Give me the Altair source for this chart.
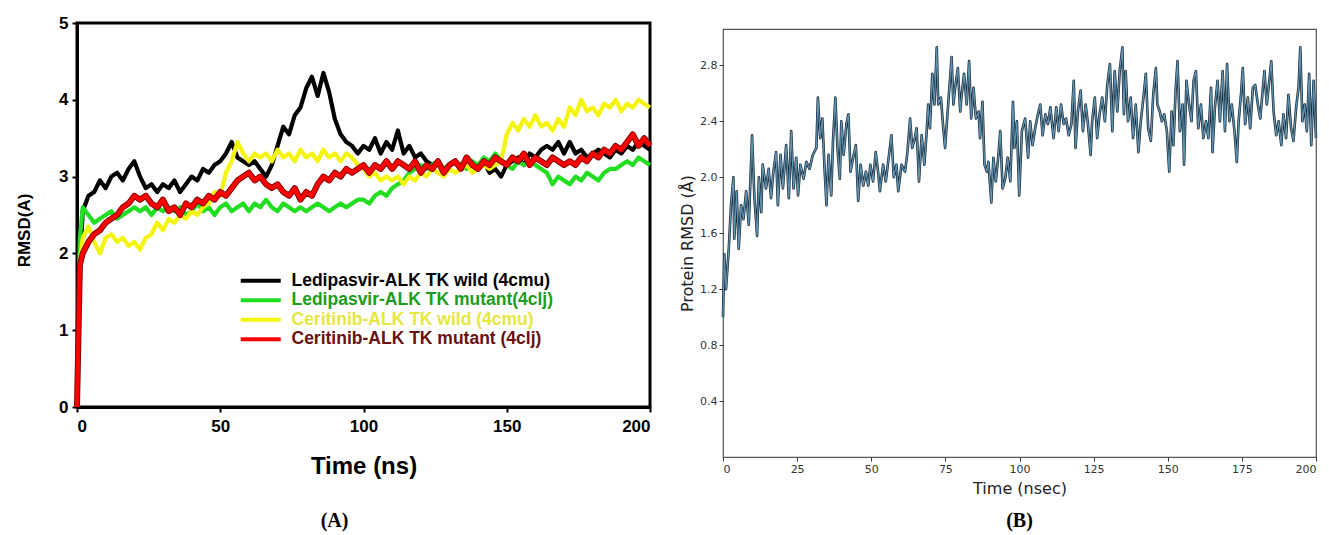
import altair as alt
import pandas as pd

# ---------------- Panel A data (RMSD, Å) ----------------
TIME_A = [0, 1] + list(range(2, 201, 2))

LEDI_WILD = [0, 1.85,
    2.55, 2.75, 2.8, 2.95, 2.85, 3.0, 3.05, 2.95, 3.1, 3.2,
    3.0, 2.85, 2.9, 2.8, 2.9, 2.85, 2.95, 2.8, 2.9, 3.0,
    2.95, 3.1, 3.05, 3.15, 3.2, 3.3, 3.45, 3.25, 3.2, 3.15,
    3.2, 3.1, 3.0, 3.15, 3.4, 3.65, 3.55, 3.8, 3.9, 4.15,
    4.3, 4.05, 4.35, 4.1, 3.75, 3.55, 3.45, 3.4, 3.3, 3.4,
    3.35, 3.5, 3.3, 3.45, 3.35, 3.6, 3.3, 3.4, 3.25, 3.3,
    3.2, 3.15, 3.2, 3.1, 3.15, 3.2, 3.1, 3.25, 3.15, 3.1,
    3.2, 3.05, 3.1, 3.0, 3.15, 3.2, 3.25, 3.15, 3.3, 3.25,
    3.35, 3.4, 3.35, 3.45, 3.3, 3.45, 3.3, 3.35, 3.25, 3.3,
    3.35, 3.3, 3.25, 3.35, 3.3, 3.4, 3.35, 3.45, 3.4, 3.35]

LEDI_MUT = [0, 2.2,
    2.6, 2.5, 2.4, 2.45, 2.5, 2.55, 2.45, 2.5, 2.55, 2.6,
    2.55, 2.6, 2.5, 2.6, 2.55, 2.6, 2.55, 2.6, 2.5, 2.55,
    2.65, 2.55, 2.6, 2.5, 2.6, 2.65, 2.55, 2.6, 2.65, 2.55,
    2.65, 2.6, 2.7, 2.6, 2.55, 2.65, 2.6, 2.55, 2.6, 2.55,
    2.6, 2.65, 2.6, 2.55, 2.6, 2.65, 2.6, 2.65, 2.7, 2.7,
    2.65, 2.75, 2.8, 2.75, 2.85, 2.9, 2.95, 3.05, 3.1, 3.15,
    3.1, 3.15, 3.2, 3.1, 3.15, 3.2, 3.15, 3.1, 3.2, 3.15,
    3.25, 3.2, 3.3, 3.2, 3.15, 3.1, 3.2, 3.15, 3.2, 3.15,
    3.1, 3.05, 2.9, 3.0, 2.95, 2.9, 3.0, 2.95, 3.05, 3.0,
    2.95, 3.05, 3.1, 3.1, 3.15, 3.2, 3.15, 3.25, 3.2, 3.15]

CERI_WILD = [0, 1.9,
    2.2, 2.35, 2.15, 2.0, 2.2, 2.25, 2.15, 2.2, 2.1, 2.15,
    2.05, 2.2, 2.25, 2.4, 2.3, 2.45, 2.4, 2.5, 2.45, 2.55,
    2.5, 2.6, 2.65, 2.8, 2.75, 3.05, 3.2, 3.45, 3.3, 3.2,
    3.3, 3.25, 3.3, 3.2, 3.35, 3.25, 3.3, 3.2, 3.35, 3.25,
    3.3, 3.2, 3.35, 3.25, 3.3, 3.2, 3.3, 3.25, 3.15, 3.1,
    3.0, 3.05, 2.95, 3.0, 2.95, 3.0, 2.9, 3.0, 2.95, 3.05,
    3.0, 3.1, 3.05, 3.0, 3.1, 3.05, 3.1, 3.15, 3.05, 3.1,
    3.15, 3.1, 3.15, 3.2, 3.55, 3.7, 3.6, 3.75, 3.65, 3.8,
    3.65, 3.7, 3.6, 3.75, 3.65, 3.9, 3.8, 4.0, 3.85, 3.9,
    3.8, 3.95, 3.9, 4.0, 3.85, 3.95, 3.9, 4.0, 3.95, 3.9]

CERI_MUT = [0, 1.85,
    2.0, 2.15, 2.25, 2.3, 2.4, 2.45, 2.5, 2.6, 2.65, 2.75,
    2.7, 2.75, 2.65, 2.6, 2.7, 2.55, 2.6, 2.5, 2.65, 2.6,
    2.7, 2.65, 2.75, 2.7, 2.8, 2.75, 2.85, 2.95, 3.0, 3.05,
    2.95, 3.0, 2.9, 2.85, 2.9, 2.8, 2.75, 2.85, 2.7, 2.8,
    2.75, 2.9, 3.0, 2.95, 3.05, 3.0, 3.1, 3.05, 3.1, 3.15,
    3.05, 3.15, 3.1, 3.2, 3.1, 3.2, 3.15, 3.1, 3.2, 3.05,
    3.15, 3.1, 3.2, 3.05, 3.15, 3.2, 3.1, 3.25, 3.15, 3.1,
    3.2, 3.15, 3.25, 3.2, 3.15, 3.25, 3.2, 3.3, 3.15, 3.25,
    3.2, 3.15, 3.25, 3.2, 3.15, 3.2, 3.15, 3.25, 3.2, 3.3,
    3.25, 3.35, 3.3, 3.4, 3.35, 3.45, 3.55, 3.4, 3.5, 3.4]

SERIES = ["Ledipasvir-ALK TK wild (4cmu)",
          "Ledipasvir-ALK TK mutant(4clj)",
          "Ceritinib-ALK TK  wild (4cmu)",
          "Ceritinib-ALK TK  mutant (4clj)"]
SERIES_VALUES = [LEDI_WILD, LEDI_MUT, CERI_WILD, CERI_MUT]
LINE_COLORS = ["#000000", "#22dd22", "#f4f40c", "#ff0000"]
LABEL_COLORS = ["#000000", "#1c9c1c", "#e6e640", "#6a1010"]

# ---------------- Panel B data (Protein RMSD, Å) ----------------
B_POINTS = [(0.0,1.0),(0.45,1.45),(1.0,1.2),(1.9,1.47),(2.7,1.8),(3.5,2.0),(3.8,1.56),(4.6,1.9),(5.3,1.49),(6.1,1.8),
    (6.9,1.7),(7.8,1.9),(8.7,1.66),(9.8,2.3),(10.6,1.85),(11.5,1.58),(12.1,2.0),(12.9,1.75),(13.4,2.09),(14.5,1.92),
    (15.4,2.06),(16.2,1.85),(17.0,2.04),(17.9,2.18),(18.5,1.8),(19.4,2.16),(20.2,1.92),(21.3,2.23),(22.2,1.85),(23.0,2.33),
    (23.8,1.92),(24.7,2.14),(25.3,1.87),(26.1,2.09),(27.2,1.99),(28.1,2.11),(29.2,2.06),(30.3,2.16),(31.5,2.21),(32.0,2.57),
    (32.8,2.28),(33.5,2.42),(34.3,2.04),(34.9,1.8),(35.6,2.16),(36.5,1.87),(37.1,2.26),(37.9,2.57),(38.6,2.21),(39.4,1.99),
    (39.9,2.4),(40.7,2.16),(41.6,2.38),(42.3,2.45),(43.0,2.04),(43.9,2.14),(44.8,2.23),(45.6,1.83),(46.4,2.09),(47.3,1.94),
    (48.2,2.04),(49.0,1.94),(49.7,2.09),(50.6,1.97),(51.5,2.18),(52.3,2.04),(52.9,1.9),(54.0,2.09),(54.9,1.97),(55.7,2.11),
    (56.8,2.3),(57.6,2.0),(58.5,2.09),(59.1,1.9),(60.2,2.09),(61.4,2.04),(62.2,2.18),(63.1,2.42),(63.8,2.21),(64.7,2.28),
    (65.3,2.35),(66.1,1.97),(67.0,2.3),(67.9,2.09),(68.7,2.33),(69.2,2.52),(69.8,2.35),(70.6,2.74),(71.3,2.52),(72.1,2.93),
    (72.6,2.52),(73.5,2.57),(74.3,2.35),(74.9,2.21),(75.7,2.45),(76.6,2.71),(77.1,2.86),(77.7,2.52),(78.3,2.64),(79.2,2.78),
    (80.0,2.47),(80.5,2.59),(81.3,2.74),(82.2,2.52),(83.0,2.83),(83.7,2.42),(84.5,2.64),(85.3,2.42),(86.2,2.47),(86.7,2.28),
    (87.5,2.54),(88.2,2.09),(89.0,2.04),(89.5,2.11),(90.5,1.82),(91.2,2.14),(92.0,1.97),(92.9,2.16),(93.5,2.33),(94.3,1.92),
    (95.2,1.99),(96.0,2.14),(96.9,1.97),(97.8,2.54),(98.3,2.21),(99.1,2.4),(99.9,1.87),(100.8,2.33),(101.9,2.42),(102.9,2.14),
    (103.6,2.4),(104.4,2.23),(105.3,2.35),(106.2,2.45),(107.0,2.52),(107.8,2.3),(108.7,2.45),(109.6,2.38),(110.4,2.5),(111.5,2.28),
    (112.4,2.5),(113.2,2.33),(114.0,2.52),(114.9,2.38),(115.7,2.42),(116.6,2.3),(117.5,2.38),(118.3,2.69),(118.9,2.21),(119.7,2.47),
    (120.6,2.62),(121.4,2.33),(122.3,2.52),(123.0,2.4),(124.0,2.16),(124.5,2.4),(125.4,2.57),(126.2,2.28),(127.0,2.45),(127.9,2.57),
    (128.8,2.4),(129.6,2.66),(130.5,2.81),(131.3,2.33),(132.1,2.76),(133.0,2.47),(133.8,2.76),(134.7,2.93),(135.2,2.45),(135.8,2.76),
    (136.6,2.4),(137.5,2.57),(138.3,2.28),(139.2,2.52),(140.1,2.18),(140.9,2.4),(141.8,2.57),(142.6,2.74),(143.4,2.35),(144.3,2.26),
    (145.1,2.59),(146.0,2.78),(146.5,2.52),(147.3,2.47),(148.0,2.4),(148.8,2.45),(149.7,2.33),(150.5,2.04),(151.3,2.47),(151.9,2.23),
    (152.7,2.64),(153.3,2.83),(154.1,2.33),(155.0,2.52),(155.5,2.09),(156.3,2.69),(157.2,2.52),(158.0,2.4),(158.7,2.69),(159.5,2.76),
    (160.3,2.35),(161.2,2.52),(162.0,2.28),(162.9,2.4),(163.7,2.28),(164.6,2.64),(165.1,2.18),(165.9,2.5),(166.8,2.69),(167.6,2.4),
    (168.5,2.76),(169.3,2.33),(170.0,2.81),(170.8,2.4),(171.6,2.52),(172.5,2.33),(173.3,2.11),(173.9,2.4),(174.7,2.59),(175.3,2.78),
    (176.1,2.38),(177.0,2.57),(177.8,2.35),(178.7,2.64),(179.5,2.66),(180.4,2.52),(181.2,2.42),(182.1,2.64),(182.6,2.76),(183.4,2.52),
    (184.1,2.66),(184.9,2.83),(185.7,2.47),(186.6,2.3),(187.4,2.4),(188.3,2.23),(189.0,2.45),(189.9,2.28),(190.7,2.59),(191.6,2.35),
    (192.4,2.26),(193.3,2.5),(194.1,2.64),(194.7,2.93),(195.4,2.4),(196.2,2.52),(196.9,2.33),(197.7,2.74),(198.4,2.23),(199.2,2.69),
    (200.0,2.28)]

# ---------------- tables ----------------
rows = []
for name, vals in zip(SERIES, SERIES_VALUES):
    for t, v in zip(TIME_A, vals):
        rows.append({"time": t, "rmsd": v, "series": name})
df_a = pd.DataFrame(rows)
df_b = pd.DataFrame(B_POINTS, columns=["time", "rmsd"])

# ---------------- Panel A ----------------
label_expr = " : ".join(
    f"datum.value === '{s}' ? '{c}'" for s, c in zip(SERIES, LABEL_COLORS)
) + " : 'black'"

x_a = alt.X("time:Q", scale=alt.Scale(domain=[0, 200], nice=False),
            axis=alt.Axis(values=[0, 50, 100, 150, 200], title="Time (ns)", grid=False,
                          domainColor="black", domainWidth=3, tickColor="black", tickWidth=2,
                          tickSize=5, labelFont="Liberation Sans", labelFontWeight="bold",
                          labelFontSize=17, labelColor="black", labelPadding=6,
                          titleFont="Liberation Sans", titleFontWeight="bold", titleFontSize=24,
                          titleColor="black", titlePadding=20))
y_a = alt.Y("rmsd:Q", scale=alt.Scale(domain=[0, 5], nice=False),
            axis=alt.Axis(values=[0, 1, 2, 3, 4, 5], title="RMSD(A)", grid=False,
                          domainColor="black", domainWidth=3, tickColor="black", tickWidth=2,
                          tickSize=5, labelFont="Liberation Sans", labelFontWeight="bold",
                          labelFontSize=17, labelColor="black", labelPadding=4,
                          titleFont="Liberation Sans", titleFontWeight="bold", titleFontSize=17,
                          titleColor="black", titlePadding=25, titleY=207))
color_a = alt.Color("series:N", scale=alt.Scale(domain=SERIES, range=LINE_COLORS),
                    legend=alt.Legend(title=None, orient="none", legendX=175, legendY=249,
                                      symbolType="M-4,0H4", symbolSize=100, symbolStrokeWidth=4,
                                      labelFont="Liberation Sans", labelFontWeight="bold",
                                      labelFontSize=17.5, labelColor={"expr": label_expr},
                                      labelOffset=22, rowPadding=0.5, labelLimit=400))

layers = []
for name in SERIES:
    layers.append(
        alt.Chart(df_a).transform_filter(alt.datum.series == name)
        .mark_line(strokeWidth=4.2, strokeJoin="round")
        .encode(x=x_a, y=y_a, color=color_a)
    )
# dark edge drawn just under the red line
red_edge = (alt.Chart(df_a).transform_filter(alt.datum.series == SERIES[3])
            .mark_line(strokeWidth=6, color="#7a0000", strokeJoin="round")
            .encode(x=x_a, y=y_a))
layers = layers[:3] + [red_edge, layers[3]]

chart_a = alt.layer(*layers).properties(
    width=573, height=384,
    view=alt.ViewBackground(stroke="black", strokeWidth=3),
    title=alt.TitleParams("(A)", orient="bottom", font="Liberation Serif", fontSize=20,
                          fontWeight="bold", color="black", offset=33, dx=-29, frame="group"),
)

# ---------------- Panel B ----------------
x_b = alt.X("time:Q", scale=alt.Scale(domain=[0, 200], nice=False),
            axis=alt.Axis(values=[0, 25, 50, 75, 100, 125, 150, 175, 200], title="Time (nsec)",
                          grid=False, domain=False, tickColor="#333", tickSize=4, tickWidth=1,
                          labelFont="DejaVu Sans", labelFontSize=11, labelColor="#333",
                          labelPadding=2, titleFont="DejaVu Sans", titleFontWeight="normal",
                          titleFontSize=16, titleColor="#222", titlePadding=6))
y_b = alt.Y("rmsd:Q", scale=alt.Scale(domain=[0, 3.06], nice=False),
            axis=alt.Axis(values=[0.4, 0.8, 1.2, 1.6, 2.0, 2.4, 2.8], format=".1f",
                          title="Protein RMSD (Å)", grid=False, domain=False, tickColor="#333",
                          tickSize=4, tickWidth=1, labelFont="DejaVu Sans", labelFontSize=11,
                          labelColor="#333", labelPadding=2, titleFont="DejaVu Sans",
                          titleFontWeight="normal", titleFontSize=16, titleColor="#222",
                          titlePadding=4))

dark_b = alt.Chart(df_b).mark_line(color="#1a2a36", strokeWidth=2.6, strokeJoin="round").encode(x=x_b, y=y_b)
light_b = alt.Chart(df_b).mark_line(color="#6194b3", strokeWidth=1.2, strokeJoin="round").encode(x=x_b, y=y_b)

chart_b = alt.layer(dark_b, light_b).properties(
    width=593, height=428,
    view=alt.ViewBackground(stroke="#555", strokeWidth=1.2),
    title=alt.TitleParams("(B)", orient="bottom", font="Liberation Serif", fontSize=20,
                          fontWeight="bold", color="black", offset=15, frame="group"),
)

spacer = alt.Chart(pd.DataFrame({"s": [0]})).mark_point(opacity=0).encode(
    x=alt.value(0), y=alt.value(0)
).properties(width=1, height=1, view=alt.ViewBackground(stroke="transparent"))

col_b = alt.vconcat(spacer, chart_b, spacing=1)

chart = alt.hconcat(chart_a, col_b, spacing=23).properties(
    padding={"left": 14, "top": 12, "right": 2, "bottom": 0},
    background="white",
)

chart.save("out.html", embed_options={"renderer": "svg", "actions": False})
